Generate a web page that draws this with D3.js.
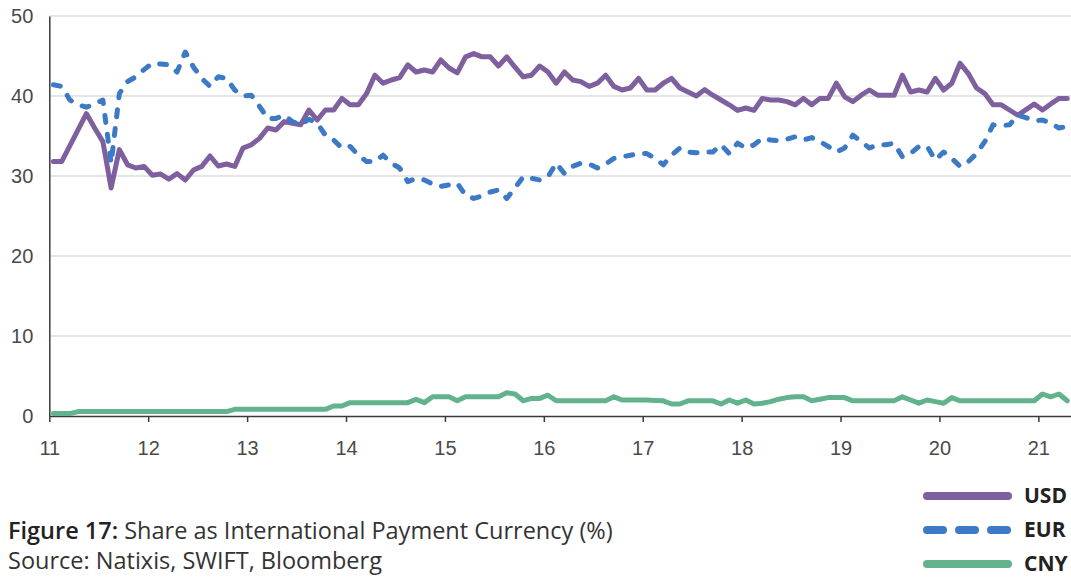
<!DOCTYPE html>
<html>
<head>
<meta charset="utf-8">
<script src="https://cdn.jsdelivr.net/npm/d3@7"></script>
<style>
  body { margin: 0; background: #fff; }
  svg { display: block; font-family: "Open Sans", Lato, sans-serif; }
  .tick text { fill: #4a4a4a; font-size: 20px; }
  .caption { fill: #333; font-size: 23.5px; }
  .legend { fill: #222; font-size: 21px; font-weight: bold; }
</style>
</head>
<body>
<svg id="chart" width="1071" height="577"></svg>
<script>
// monthly values, Jan 2011 .. Apr 2021
const usd = [31.8, 31.8, 33.8, 35.8, 37.8, 36.0, 34.3, 28.5, 33.3, 31.4,
  31.0, 31.2, 30.1, 30.25, 29.6, 30.3, 29.5, 30.75, 31.2, 32.5,
  31.25, 31.5, 31.2, 33.5, 33.9, 34.7, 36.0, 35.75, 36.8, 36.6,
  36.4, 38.25, 37.0, 38.25, 38.25, 39.7, 38.9, 38.9, 40.3, 42.6,
  41.6, 42.0, 42.3, 43.9, 43.0, 43.25, 43.0, 44.5, 43.5, 42.9,
  44.9, 45.3, 44.9, 44.9, 43.75, 44.9, 43.6, 42.4, 42.6, 43.75,
  43.0, 41.6, 43.0, 42.0, 41.8, 41.2, 41.6, 42.6, 41.2, 40.75,
  41.0, 42.2, 40.75, 40.75, 41.6, 42.2, 41.0, 40.5, 40.0, 40.8,
  40.1, 39.5, 38.9, 38.2, 38.5, 38.2, 39.7, 39.5, 39.5, 39.3,
  38.9, 39.7, 38.9, 39.7, 39.7, 41.6, 39.9, 39.3, 40.1, 40.75,
  40.1, 40.1, 40.1, 42.6, 40.5, 40.75, 40.5, 42.2, 40.75, 41.6,
  44.1, 42.8, 41.0, 40.3, 38.9, 38.9, 38.25, 37.6, 38.3, 39.0,
  38.25, 39.0, 39.7, 39.7];

const eur = [41.4, 41.2, 39.5, 38.9, 38.6, 39.0, 39.5, 31.6, 40.3, 41.8,
  42.4, 43.3, 44.1, 44.0, 43.9, 43.0, 45.5, 43.6, 42.2, 41.2,
  42.4, 42.2, 40.75, 40.0, 40.1, 38.7, 37.2, 37.2, 37.6, 36.8,
  36.4, 37.1, 36.6, 35.1, 34.5, 33.5, 33.7, 32.6, 31.8, 31.8,
  32.6, 31.6, 31.0, 29.3, 29.7, 29.5, 29.0, 28.7, 28.9, 29.1,
  27.6, 27.2, 27.5, 28.0, 28.25, 27.2, 28.5, 29.9, 29.7, 29.5,
  29.9, 31.6, 30.3, 31.2, 31.6, 31.5, 31.0, 31.5, 32.2, 32.4,
  32.6, 32.8, 32.8, 32.2, 31.4, 32.6, 33.5, 33.0, 32.9, 33.0,
  33.0, 33.9, 32.8, 34.1, 33.5, 33.9, 34.7, 34.5, 34.4, 34.6,
  34.9, 34.5, 34.8, 34.3, 33.7, 33.0, 33.5, 35.1, 34.3, 33.5,
  33.9, 33.9, 34.1, 32.4, 32.8, 33.7, 33.7, 32.0, 33.0, 32.2,
  31.2, 31.8, 32.8, 34.3, 36.4, 36.3, 36.4, 37.6, 37.3, 36.9,
  37.0, 36.6, 36.0, 36.2];

const cny = [0.3, 0.3, 0.3, 0.55, 0.55, 0.55, 0.55, 0.55, 0.55, 0.55,
  0.55, 0.55, 0.55, 0.55, 0.55, 0.55, 0.55, 0.55, 0.55, 0.55,
  0.55, 0.55, 0.83, 0.83, 0.83, 0.83, 0.83, 0.83, 0.83, 0.83,
  0.83, 0.83, 0.83, 0.83, 1.25, 1.25, 1.67, 1.67, 1.67, 1.67,
  1.67, 1.67, 1.67, 1.67, 2.08, 1.67, 2.4, 2.4, 2.4, 1.9,
  2.4, 2.4, 2.4, 2.4, 2.4, 2.9, 2.75, 1.9, 2.2, 2.2,
  2.6, 1.9, 1.9, 1.9, 1.9, 1.9, 1.9, 1.9, 2.4, 2.0,
  2.0, 2.0, 2.0, 1.95, 1.9, 1.5, 1.5, 1.9, 1.9, 1.9,
  1.9, 1.5, 2.0, 1.6, 2.0, 1.5, 1.6, 1.8, 2.1, 2.3,
  2.4, 2.4, 1.9, 2.1, 2.3, 2.3, 2.3, 1.9, 1.9, 1.9,
  1.9, 1.9, 1.9, 2.4, 2.0, 1.6, 2.0, 1.8, 1.6, 2.3,
  1.9, 1.9, 1.9, 1.9, 1.9, 1.9, 1.9, 1.9, 1.9, 1.9,
  2.75, 2.4, 2.75, 1.9];

const xTicks = [11, 12, 13, 14, 15, 16, 17, 18, 19, 20, 21];
const yTicks = [0, 10, 20, 30, 40, 50];

const series = [
  { name: 'USD', values: usd, color: '#7d609d', dash: null },
  { name: 'EUR', values: eur, color: '#3d7ac6', dash: '7,12' },
  { name: 'CNY', values: cny, color: '#62b38b', dash: null }
];

// =========================
// CHART
// =========================

const svg = d3.select('#chart');

const x = d3.scaleLinear()
  .domain([11, 21.33])
  .range([49.3, 1071]);

const y = d3.scaleLinear()
  .domain([0, 50])
  .range([416, 16]);

// month i sits in the middle of its month
const monthX = i => x(11 + (i + 0.5) / 12);

// gridlines
svg.append('g')
  .selectAll('line')
  .data(yTicks.filter(d => d > 0))
  .enter()
  .append('line')
  .attr('x1', x(11))
  .attr('x2', 1071)
  .attr('y1', d => y(d))
  .attr('y2', d => y(d))
  .attr('stroke', '#dcdcdc')
  .attr('stroke-width', 1.5);

// y axis
const yAxis = svg.append('g')
  .attr('transform', `translate(${x(11)}, 0)`)
  .call(d3.axisLeft(y).tickValues(yTicks).tickSize(0).tickPadding(16));

yAxis.select('.domain')
  .attr('stroke', '#3a3a3a')
  .attr('stroke-width', 1.5);

// x axis
const xAxis = svg.append('g')
  .attr('transform', `translate(0, ${y(0)})`)
  .call(d3.axisBottom(x)
    .tickValues(xTicks)
    .tickSize(6)
    .tickSizeOuter(0)
    .tickPadding(19));

xAxis.select('.domain')
  .attr('stroke', '#3a3a3a')
  .attr('stroke-width', 1.5);

xAxis.selectAll('.tick line')
  .attr('stroke', '#3a3a3a')
  .attr('stroke-width', 1.5);

svg.selectAll('.tick text').attr('font-family', null);

// lines
const line = d3.line()
  .x((d, i) => monthX(i))
  .y(d => y(d));

svg.append('g')
  .selectAll('path')
  .data(series)
  .enter()
  .append('path')
  .attr('d', d => line(d.values))
  .attr('fill', 'none')
  .attr('stroke', d => d.color)
  .attr('stroke-width', 5)
  .attr('stroke-linejoin', 'round')
  .attr('stroke-linecap', 'round')
  .attr('stroke-dasharray', d => d.dash);

// legend
const legend = svg.append('g');

series.forEach((s, i) => {
  const ly = 496 + i * 34;

  legend.append('line')
    .attr('x1', 927)
    .attr('x2', 1008)
    .attr('y1', ly)
    .attr('y2', ly)
    .attr('stroke', s.color)
    .attr('stroke-width', 8)
    .attr('stroke-linecap', 'round')
    .attr('stroke-dasharray', s.dash ? '16,16' : null);

  legend.append('text')
    .attr('x', 1024)
    .attr('y', ly + 7)
    .attr('class', 'legend')
    .text(s.name);
});

// caption
const cap = svg.append('text')
  .attr('x', 8)
  .attr('y', 539)
  .attr('class', 'caption');

cap.append('tspan')
  .attr('font-weight', 600)
  .attr('fill', '#222')
  .text('Figure 17:');

cap.append('tspan')
  .text(' Share as International Payment Currency (%)');

svg.append('text')
  .attr('x', 8)
  .attr('y', 569)
  .attr('class', 'caption')
  .text('Source: Natixis, SWIFT, Bloomberg');
</script>
</body>
</html>
